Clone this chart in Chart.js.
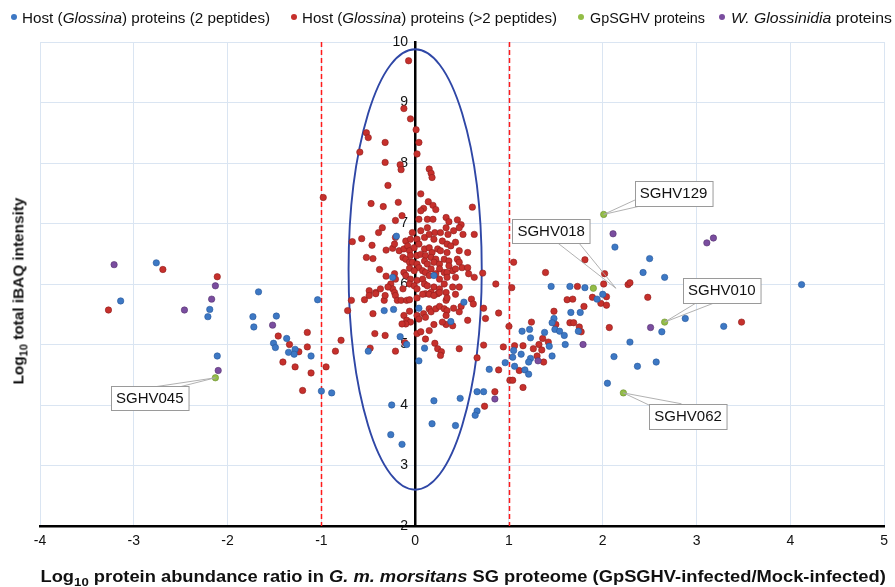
<!DOCTYPE html>
<html>
<head>
<meta charset="utf-8">
<script src="https://cdn.jsdelivr.net/npm/chart.js@4.4.1/dist/chart.umd.min.js"></script>
<style>
html,body{margin:0;padding:0;background:#fff;}
#wrap{position:relative;width:895px;height:587px;overflow:hidden;font-family:"Liberation Sans",Arial,sans-serif;color:#111;}
#c{position:absolute;left:0;top:0;}
.li{position:absolute;top:9px;font-size:15px;line-height:17px;white-space:nowrap;transform-origin:0 50%;}
.dot{position:absolute;top:14px;width:6px;height:6px;border-radius:50%;}
.title{position:absolute;font-weight:bold;white-space:nowrap;line-height:18px;}
sub{font-size:72%;vertical-align:-0.35em;line-height:0;}
</style>
</head>
<body>
<div id="wrap">
<canvas id="c" width="895" height="587"></canvas>
<div id="legend"></div>
<div id="xtitle" class="title" style="font-size:16px">Log<sub>10</sub> protein abundance ratio in <i>G. m. morsitans</i> SG proteome (GpSGHV-infected/Mock-infected)</div>
<div id="ytitle" class="title" style="font-size:15px">Log<sub>10</sub> total iBAQ intensity</div>
</div>
<script>
// ---------- data ----------
const seriesNames = [
  'Host (<i>Glossina</i>) proteins (2 peptides)',
  'Host (<i>Glossina</i>) proteins (&gt;2 peptides)',
  'GpSGHV proteins',
  '<i>W. Glossinidia</i> proteins'
];
const xTicks = [-4,-3,-2,-1,0,1,2,3,4,5];
const yTicks = [2,3,4,5,6,7,8,9,10];

const hostTwoPeptides = [
 [-2.76,6.35],[-1.67,5.87],[-1.04,5.74],[-3.14,5.72],[-2.19,5.58],[-2.21,5.46],[-1.73,5.46],[-1.48,5.47],[-1.72,5.29],[-1.37,5.10],
 [-1.51,5.02],[-1.49,4.95],[-1.28,4.92],[-1.35,4.87],[-1.29,4.84],[-1.11,4.81],[-2.11,4.81],[-1.00,4.23],[-0.89,4.20],
 [-0.24,6.11],[0.20,6.14],[-0.20,6.79],[-0.33,5.56],[-0.23,5.58],[0.04,5.60],[0.52,5.70],[0.38,5.38],[-0.16,5.13],[-0.09,5.00],
 [0.10,4.94],[-0.50,4.89],[0.04,4.73],[-0.25,4.00],[-0.26,3.51],[-0.14,3.35],[0.20,4.07],[0.18,3.69],[0.48,4.11],[0.43,3.66],
 [0.66,4.22],[0.73,4.22],[0.66,3.90],[0.64,3.83],
 [2.13,6.61],[2.50,6.42],[2.43,6.19],[2.66,6.11],[1.45,5.96],[1.65,5.96],[1.81,5.94],[1.94,5.75],[2.00,5.83],[1.76,5.53],[1.66,5.53],
 [2.88,5.43],[1.48,5.43],[1.46,5.36],[1.74,5.22],[1.49,5.25],[1.54,5.22],[1.59,5.15],[1.22,5.25],[1.14,5.22],[1.23,5.11],[1.38,5.20],
 [1.43,4.97],[1.60,5.00],[1.05,4.90],[1.13,4.84],[1.46,4.81],[1.23,4.77],[1.21,4.71],[1.04,4.79],[0.96,4.70],[1.06,4.64],[1.17,4.58],
 [1.21,4.51],[0.79,4.59],[2.63,5.21],[3.29,5.30],[2.29,5.04],[2.12,4.80],[2.37,4.64],[2.57,4.71],[2.05,4.36],[4.12,5.99]
];

const hostMorePeptides = [
 // left of -1
 [-2.69,6.24],[-2.11,6.12],[-3.27,5.57],[-1.15,5.20],[-1.46,5.14],[-1.34,5.00],[-1.15,4.96],[-1.24,4.88],[-1.41,4.71],[-1.28,4.63],
 [-0.95,4.63],[-1.11,4.53],[-1.20,4.24],[-0.98,7.43],[-0.79,5.07],[-0.85,4.89],
 // upper centre
 [-0.07,9.69],[-0.12,8.90],[-0.05,8.73],[0.01,8.55],[-0.52,8.50],[-0.50,8.42],[-0.32,8.34],[0.04,8.34],[-0.59,8.18],[0.02,8.15],
 [-0.32,8.01],[-0.16,7.97],[-0.15,7.89],[0.15,7.90],[0.17,7.83],[0.18,7.76],[-0.29,7.63],[0.06,7.49],[0.14,7.36],[-0.47,7.33],
 [-0.34,7.28],[-0.18,7.35],[0.19,7.30],[0.22,7.23],[0.09,7.25],[0.06,7.21],[0.61,7.27],[-0.14,7.13],[-0.21,7.05],[0.04,7.07],
 [0.13,7.07],[0.19,7.07],[0.33,7.10],[0.45,7.06],[0.36,7.03],[0.49,6.98],[-0.67,6.70],[0.72,6.18],[0.86,6.00],
 // dense core
 [-0.57,6.75],[-0.39,6.85],[-0.35,6.93],[-0.21,6.77],[-0.10,6.71],[-0.05,6.74],[-0.03,6.85],[0.02,6.74],[0.06,6.88],[0.10,6.77],
 [0.13,6.93],[0.15,6.82],[0.21,6.85],[0.27,6.85],[0.33,6.93],[0.35,6.82],[0.41,6.88],[0.47,6.93],[0.51,6.82],[0.20,6.74],
 [0.29,6.71],[0.34,6.66],[0.43,6.69],[0.63,6.82],
 [-0.46,6.64],[-0.31,6.56],[-0.24,6.59],[-0.22,6.66],[-0.17,6.55],[-0.12,6.58],[-0.08,6.63],[-0.06,6.55],[-0.01,6.60],[0.04,6.66],
 [0.10,6.58],[0.15,6.60],[0.18,6.52],[0.24,6.58],[0.27,6.55],[0.34,6.52],[0.38,6.63],[0.47,6.55],[0.56,6.52],[-0.52,6.44],
 [-0.45,6.42],[-0.13,6.44],[-0.10,6.41],[-0.05,6.47],[0.02,6.47],[0.06,6.49],[0.11,6.47],[0.17,6.44],[0.22,6.41],[0.31,6.41],
 [0.36,6.38],[0.45,6.41],
 [-0.06,6.36],[-0.03,6.36],[0.02,6.33],[0.04,6.27],[0.10,6.38],[0.13,6.33],[0.20,6.36],[0.26,6.33],[0.36,6.30],[0.40,6.22],
 [0.47,6.36],[0.50,6.27],[-0.38,6.24],[-0.31,6.13],[-0.22,6.17],[-0.12,6.19],[-0.06,6.26],[-0.01,6.22],[0.08,6.22],[0.11,6.19],
 [0.17,6.25],[0.22,6.17],[0.26,6.25],[0.31,6.19],[0.34,6.19],[0.43,6.25],[0.56,6.27],
 [-0.21,6.08],[-0.10,6.14],[-0.05,6.08],[0.02,6.06],[0.08,6.08],[0.15,6.14],[0.26,6.08],[0.34,6.11],[0.43,6.11],[0.57,6.17],
 [0.63,6.11],[-0.26,6.00],[-0.24,5.92],[-0.29,5.95],[-0.22,5.86],[-0.13,5.92],[-0.06,6.00],[-0.01,5.97],[0.02,5.92],[0.10,6.00],
 [0.13,5.97],[0.20,5.95],[0.26,5.92],[0.31,6.00],[0.33,5.86],[0.40,5.95],[0.47,5.95],[-0.49,5.89],[-0.42,5.86],[-0.37,5.92],
 [0.17,5.86],[0.24,5.84],[0.11,5.84],
 // lower centre
 [-0.68,5.73],[-0.72,5.56],[-0.54,5.74],[-0.49,5.81],[-0.42,5.84],[-0.33,5.73],[-0.32,5.81],[-0.21,5.81],[-0.19,5.73],[-0.15,5.73],
 [-0.09,5.73],[-0.06,5.74],[0.02,5.77],[0.08,5.83],[0.15,5.83],[0.20,5.81],[0.26,5.86],[0.33,5.73],[0.34,5.77],[0.43,5.83],
 [-0.45,5.51],[-0.06,5.55],[-0.12,5.48],[-0.09,5.40],[0.02,5.48],[0.09,5.51],[0.04,5.42],[0.11,5.45],[0.15,5.59],[0.17,5.54],
 [0.22,5.59],[0.26,5.63],[0.31,5.59],[0.34,5.56],[0.33,5.48],[0.41,5.60],[0.49,5.63],[0.47,5.54],[0.60,5.75],[0.62,5.67],
 [0.73,5.60],[0.75,5.43],[0.56,5.40],[0.40,5.31],[0.33,5.33],[0.29,5.37],[0.20,5.33],[0.15,5.23],[0.02,5.18],[0.06,5.21],
 [-0.05,5.37],[-0.10,5.34],[-0.14,5.34],[-0.43,5.18],[-0.32,5.15],[-0.11,5.03],[0.11,5.09],[0.21,5.02],[0.24,4.93],[0.28,4.88],
 [0.47,4.93],[-0.48,4.94],[-0.21,4.89],[0.73,4.99],[0.66,4.78],[0.74,3.98],[0.27,4.82],
 // right of +1
 [1.05,6.36],[1.81,6.40],[1.39,6.19],[2.02,6.17],[1.03,5.94],[1.73,5.96],[2.01,6.00],[2.27,5.99],[2.29,6.02],[1.62,5.74],
 [1.68,5.75],[1.89,5.78],[2.04,5.79],[2.48,5.78],[1.80,5.63],[1.98,5.68],[2.04,5.65],[1.48,5.55],[0.89,5.52],[1.24,5.37],
 [1.65,5.36],[1.69,5.36],[1.75,5.29],[1.77,5.21],[2.07,5.28],[1.50,5.33],[1.00,5.30],[1.36,5.10],[1.32,5.00],[1.42,5.04],
 [0.94,4.96],[1.06,4.98],[1.15,4.98],[1.26,4.93],[1.35,4.91],[1.30,4.81],[1.37,4.71],[1.11,4.57],[0.89,4.58],[1.01,4.41],
 [1.04,4.41],[1.15,4.29],[0.85,4.22],[3.48,5.37]
];

const gpsghvProteins = [[-2.13,4.45],[2.01,7.15],[1.90,5.93],[2.66,5.37],[2.22,4.20]];

const wGlossinidiaProteins = [
 [-3.21,6.32],[-2.13,5.97],[-2.17,5.75],[-2.46,5.57],[-1.52,5.32],[-2.10,4.57],
 [2.11,6.83],[3.11,6.68],[3.18,6.76],[1.79,5.00],[1.31,4.73],[0.85,4.10],[2.51,5.28]
];

const calloutLabels = ['SGHV129','SGHV018','SGHV010','SGHV062','SGHV045'];

// ---------- styling / annotation config ----------
const colors = ['#3d78c4','#c6302c','#93bd47','#7a4d9f'];
const borders = ['#27589a','#8e1f1c','#6a8c2e','#55336f'];
const callouts = [
  {box:[2.755,7.30,7.71], target:[2.01,7.15], anchors:[[2.36,7.40],[2.46,7.31]]},
  {box:[1.45,6.68,7.08], target:[2.14,5.93], anchors:[[1.51,6.69],[1.74,6.69]]},
  {box:[3.27,5.69,6.10], target:[2.66,5.37], anchors:[[3.01,5.70],[3.21,5.70]]},
  {box:[2.91,3.61,4.02], target:[2.22,4.20], anchors:[[2.52,3.98],[2.84,4.02]]},
  {box:[-2.83,3.91,4.31], target:[-2.13,4.45], anchors:[[-2.78,4.30],[-2.51,4.30]]}
];
const ellipseCfg = {cx:0.0, cy:6.24, rx:0.71, ry:3.64};
const cutoffs = [-1, 1];

const toPts = arr => arr.map(p => ({x:p[0], y:p[1]}));
const seriesData = [hostTwoPeptides, hostMorePeptides, gpsghvProteins, wGlossinidiaProteins];

const guides = {
  id:'guides',
  beforeDatasetsDraw(chart){
    const {ctx, chartArea:a, scales:{x,y}} = chart;
    ctx.save();
    ctx.strokeStyle = '#ff1a1a'; ctx.lineWidth = 1.5; ctx.setLineDash([5,3]);
    cutoffs.forEach(v => {
      const px = Math.round(x.getPixelForValue(v)) + 0.5;
      ctx.beginPath(); ctx.moveTo(px, a.top); ctx.lineTo(px, a.bottom); ctx.stroke();
    });
    ctx.setLineDash([]);
    const cx = x.getPixelForValue(ellipseCfg.cx), cy = y.getPixelForValue(ellipseCfg.cy);
    const rx = x.getPixelForValue(ellipseCfg.cx + ellipseCfg.rx) - cx;
    const ry = cy - y.getPixelForValue(ellipseCfg.cy + ellipseCfg.ry);
    ctx.strokeStyle = '#2f47a6'; ctx.lineWidth = 1.9;
    ctx.beginPath(); ctx.ellipse(cx, cy, rx, ry, 0, 0, Math.PI*2); ctx.stroke();
    ctx.restore();
  },
  afterDatasetsDraw(chart){
    const {ctx, scales:{x,y}} = chart;
    ctx.save();
    ctx.font = '15px "Liberation Sans", Arial, sans-serif';
    callouts.forEach((c, i) => {
      const tx = x.getPixelForValue(c.target[0]), ty = y.getPixelForValue(c.target[1]);
      ctx.strokeStyle = '#a8a8a8'; ctx.lineWidth = 0.9;
      c.anchors.forEach(an => {
        ctx.beginPath(); ctx.moveTo(tx, ty);
        ctx.lineTo(x.getPixelForValue(an[0]), y.getPixelForValue(an[1])); ctx.stroke();
      });
      const label = calloutLabels[i];
      const w = ctx.measureText(label).width + 10;
      const bx = x.getPixelForValue(c.box[0]);
      const top = y.getPixelForValue(c.box[2]), bot = y.getPixelForValue(c.box[1]);
      const l = Math.round(bx - w/2) + 0.5, t = Math.round(top) + 0.5, h = Math.round(bot - top);
      ctx.fillStyle = '#fff'; ctx.fillRect(l, t, w, h);
      ctx.strokeStyle = '#9a9a9a'; ctx.lineWidth = 1; ctx.strokeRect(l, t, w, h);
      ctx.fillStyle = '#111'; ctx.textAlign = 'center'; ctx.textBaseline = 'middle';
      ctx.fillText(label, bx, (top + bot)/2 + 1);
    });
    ctx.restore();
  }
};

const tickFont = {family:'"Liberation Sans", Arial, sans-serif', size:14};
new Chart(document.getElementById('c'), {
  type:'scatter',
  data:{
    datasets: seriesData.map((d, i) => ({
      label: seriesNames[i].replace(/<[^>]+>/g,''),
      data: toPts(d),
      pointRadius: 3.2,
      pointBackgroundColor: colors[i],
      pointBorderColor: borders[i],
      pointBorderWidth: 0.6,
      order: i === 1 ? 4 : 3 - i
    }))
  },
  options:{
    responsive:false, animation:false, devicePixelRatio:1,
    layout:{padding:{left:40, right:9, top:42, bottom:31}},
    plugins:{legend:{display:false}, tooltip:{enabled:false}},
    scales:{
      x:{
        type:'linear', min:-4, max:5, position:'bottom',
        afterBuildTicks: s => { s.ticks = xTicks.map(v => ({value:v})); },
        afterFit: s => { s.height = 30; },
        ticks:{color:'#111', font:tickFont, padding:7, maxRotation:0, callback: v => String(v)},
        grid:{color:'#dae5f2', lineWidth:1, drawTicks:false},
        border:{color:'#000', width:2.5}
      },
      y:{
        type:'linear', min:2, max:10, position:{x:0},
        afterBuildTicks: s => { s.ticks = yTicks.map(v => ({value:v})); },
        ticks:{color:'#111', font:tickFont, padding:7, callback: v => String(v) + '\u2002'},
        grid:{color:'#dae5f2', lineWidth:1, drawTicks:false},
        border:{color:'#000', width:2.5}
      }
    }
  },
  plugins:[guides]
});

// ---------- legend (HTML text) ----------
const legendPos = [[14,22,270],[294,302,557],[581,590,705],[722,731,892]];
const lg = document.getElementById('legend');
seriesNames.forEach((n, i) => {
  const d = document.createElement('div'); d.className = 'dot';
  d.style.left = (legendPos[i][0]-3) + 'px'; d.style.background = colors[i];
  lg.appendChild(d);
  const t = document.createElement('div'); t.className = 'li';
  t.style.left = legendPos[i][1] + 'px'; t.innerHTML = n;
  lg.appendChild(t);
  const k = (legendPos[i][2] - legendPos[i][1]) / t.offsetWidth;
  t.style.transform = 'scaleX(' + k.toFixed(3) + ')';
});

// ---------- axis titles ----------
function place(el, cx, cy, targetLen, rot){
  const w = el.offsetWidth, h = el.offsetHeight;
  el.style.left = (cx - w/2) + 'px'; el.style.top = (cy - h/2) + 'px';
  const k = targetLen / w;
  el.style.transform = (rot ? 'rotate(-90deg) ' : '') + 'scaleX(' + k.toFixed(3) + ')';
}
place(document.getElementById('xtitle'), 463, 577, 845, false);
place(document.getElementById('ytitle'), 18, 291, 187, true);
</script>
</body>
</html>
